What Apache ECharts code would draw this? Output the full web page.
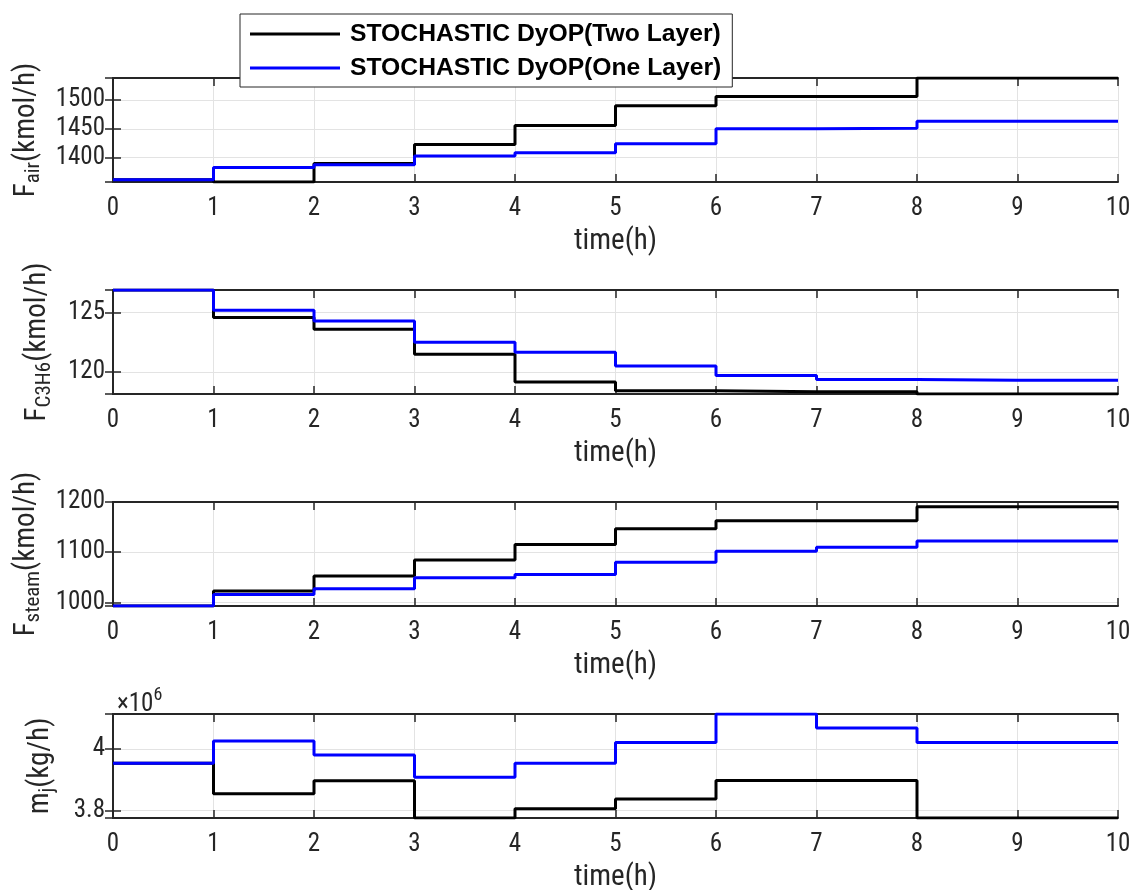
<!DOCTYPE html>
<html>
<head>
<meta charset="utf-8">
<script src="https://cdn.jsdelivr.net/npm/echarts@6/dist/echarts.min.js"></script>
<style>
  html, body { margin: 0; padding: 0; background: #fff; }
  #chart { width: 1136px; height: 890px; }
</style>
</head>
<body>
<div id="chart"></div>
<script>
// Sampling instants (h); each value holds from its instant to the next one.
const timeH = [0, 1, 2, 3, 4, 5, 6, 7, 8, 9, 10];
const xTickValues = [0, 1, 2, 3, 4, 5, 6, 7, 8, 9, 10];
const seriesNames = ['STOCHASTIC DyOP(Two Layer)', 'STOCHASTIC DyOP(One Layer)'];

// Air feed (kmol/h)
const airTwoLayer = [1362, 1358, 1390, 1423, 1456, 1490, 1506, 1506, 1538, 1538, 1538];
const airOneLayer = [1362, 1383, 1388, 1403, 1408.6, 1424, 1450, 1451, 1463, 1463, 1463];
// Propylene feed (kmol/h)
const c3h6TwoLayer = [126.92, 124.6, 123.6, 121.5, 119.15, 118.4, 118.33, 118.33, 118.13, 118.13, 118.13];
const c3h6OneLayer = [126.92, 125.2, 124.3, 122.5, 121.65, 120.5, 119.7, 119.35, 119.3, 119.3, 119.3];
// Steam feed (kmol/h)
const steamTwoLayer = [993, 1023, 1052.5, 1084.6, 1115.4, 1147, 1162.5, 1162.5, 1190.6, 1190.6, 1190.6];
const steamOneLayer = [993, 1016, 1027.4, 1049, 1055.7, 1080, 1102, 1110, 1122.6, 1122.6, 1122.6];
// Coolant flow (kg/h)
const coolantTwoLayer = [3.954e6, 3.854e6, 3.897e6, 3.775e6, 3.805e6, 3.837e6, 3.898e6, 3.898e6, 3.775e6, 3.775e6, 3.775e6];
const coolantOneLayer = [3.954e6, 4.027e6, 3.981e6, 3.908e6, 3.954e6, 4.022e6, 4.115e6, 4.069e6, 4.022e6, 4.022e6, 4.022e6];

// Axis limits per panel
const airLimits = [1358, 1538];
const c3h6Limits = [118.13, 126.92];
const steamLimits = [993, 1200];
const coolantLimits = [3.775e6, 4.115e6];

const FONT = "'Roboto Condensed', 'DejaVu Sans Condensed', 'Roboto', sans-serif";
const LEGEND_FONT = "'Liberation Sans', Arial, sans-serif";
const AXIS_COLOR = '#262626';
const GRID_COLOR = '#e3e3e3';
const TICK_SIZE = 25;
const LABEL_SIZE = 29;

const panels = [
  { two: airTwoLayer, one: airOneLayer, lim: airLimits, split: 4,
    name: '{b|F}{s|air}{b|(kmol/h)}', gap: 69, maxLabel: false, fmt: v => v },
  { two: c3h6TwoLayer, one: c3h6OneLayer, lim: c3h6Limits, split: 2,
    name: '{b|F}{s|C3H6}{b|(kmol/h)}', gap: 58, maxLabel: false, fmt: v => v },
  { two: steamTwoLayer, one: steamOneLayer, lim: steamLimits, split: 2,
    name: '{b|F}{s|steam}{b|(kmol/h)}', gap: 69, maxLabel: true, fmt: v => v },
  { two: coolantTwoLayer, one: coolantOneLayer, lim: coolantLimits, split: 2,
    name: '{b|m}{s|j}{b|(kg/h)}', gap: 55, maxLabel: false,
    fmt: v => String(Math.round(v / 1e5) / 10) }
];

const gridTops = [78, 290, 502, 714];
const gridLeft = 113, gridWidth = 1005, gridHeight = 104;

const grids = [], xAxes = [], yAxes = [], series = [];
const tickStyle = { show: true, inside: true, length: 8, lineStyle: { color: AXIS_COLOR, width: 1.5 } };
const lineAxis = { show: true, lineStyle: { color: AXIS_COLOR, width: 2 } };
const nameRich = {
  b: { fontFamily: FONT, fontSize: LABEL_SIZE, color: AXIS_COLOR },
  s: { fontFamily: FONT, fontSize: 21, color: AXIS_COLOR, padding: [13, 0, 0, 0] }
};

panels.forEach((p, i) => {
  grids.push({ left: gridLeft, top: gridTops[i], width: gridWidth, height: gridHeight,
    containLabel: false, outerBoundsMode: 'none' });
  // bottom axis with tick labels and vertical grid lines
  xAxes.push({
    type: 'value', gridIndex: i, min: 0, max: 10, interval: 1, position: 'bottom',
    axisLine: lineAxis, axisTick: tickStyle,
    axisLabel: { fontFamily: FONT, fontSize: TICK_SIZE, color: AXIS_COLOR, margin: 14,
      customValues: xTickValues },
    splitLine: { show: true, lineStyle: { color: GRID_COLOR, width: 1 } },
    name: 'time(h)', nameLocation: 'middle', nameGap: 45,
    nameTextStyle: { fontFamily: FONT, fontSize: LABEL_SIZE, color: AXIS_COLOR, verticalAlign: 'top' }
  });
  // top edge of the box
  xAxes.push({
    type: 'value', gridIndex: i, min: 0, max: 10, interval: 1, position: 'top',
    axisLine: lineAxis, axisTick: tickStyle, axisLabel: { show: false }, splitLine: { show: false }
  });
  // left axis with tick labels and horizontal grid lines
  yAxes.push({
    type: 'value', gridIndex: i, min: p.lim[0], max: p.lim[1], splitNumber: p.split, position: 'left',
    axisLine: lineAxis, axisTick: tickStyle,
    axisLabel: { fontFamily: FONT, fontSize: TICK_SIZE, color: AXIS_COLOR, margin: 8,
      showMinLabel: false, showMaxLabel: p.maxLabel, formatter: p.fmt },
    splitLine: { show: true, lineStyle: { color: GRID_COLOR, width: 1 } },
    name: p.name, nameLocation: 'middle', nameRotate: 90, nameGap: p.gap,
    nameTextStyle: { rich: nameRich }
  });
  // right edge of the box
  yAxes.push({
    type: 'value', gridIndex: i, min: p.lim[0], max: p.lim[1], splitNumber: p.split, position: 'right',
    axisLine: lineAxis, axisTick: tickStyle, axisLabel: { show: false }, splitLine: { show: false }
  });
  const xi = i * 2, yi = i * 2;
  series.push({
    name: seriesNames[0], type: 'line', step: 'end', xAxisIndex: xi, yAxisIndex: yi,
    data: timeH.map((t, k) => [t, p.two[k]]), symbol: 'none', z: 3,
    lineStyle: { color: '#000000', width: 3 }, itemStyle: { color: '#000000' }
  });
  series.push({
    name: seriesNames[1], type: 'line', step: 'end', xAxisIndex: xi, yAxisIndex: yi,
    data: timeH.map((t, k) => [t, p.one[k]]), symbol: 'none', z: 4,
    lineStyle: { color: '#0000ff', width: 3 }, itemStyle: { color: '#0000ff' }
  });
});

const chart = echarts.init(document.getElementById('chart'), null, { renderer: 'canvas' });
chart.setOption({
  animation: false,
  backgroundColor: '#ffffff',
  grid: grids,
  xAxis: xAxes,
  yAxis: yAxes,
  series: series,
  legend: {
    data: seriesNames, orient: 'vertical', left: 240, top: 14, z: 10,
    icon: 'rect', itemWidth: 90, itemHeight: 3, itemGap: 4,
    backgroundColor: '#ffffff', borderColor: AXIS_COLOR, borderWidth: 1,
    padding: [5, 11, 4, 10],
    textStyle: { fontFamily: LEGEND_FONT, fontWeight: 'bold', fontSize: 24.7,
      color: '#000', lineHeight: 30, padding: [0, 0, 0, 5] },
    selectedMode: false
  },
  graphic: [{
    type: 'text', left: 117, top: 686, z: 10,
    style: {
      text: '{a|×10}{p|6}',
      rich: {
        a: { fontFamily: FONT, fontSize: TICK_SIZE, fill: AXIS_COLOR, padding: [7, 0, 0, 0] },
        p: { fontFamily: FONT, fontSize: 18, fill: AXIS_COLOR, padding: [0, 0, 12, 0] }
      }
    }
  }]
});
</script>
</body>
</html>
